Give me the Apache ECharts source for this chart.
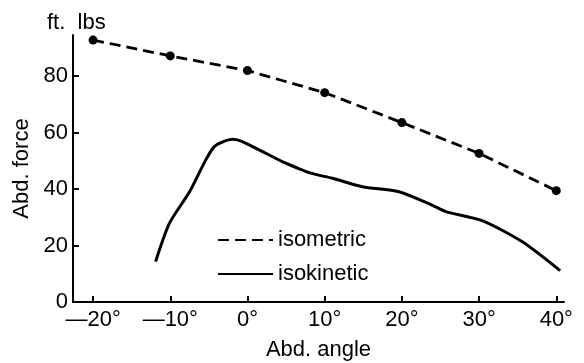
<!DOCTYPE html>
<html>
<head>
<meta charset="utf-8">
<script src="https://cdn.jsdelivr.net/npm/echarts@6/dist/echarts.min.js"></script>
<style>
html,body{margin:0;padding:0;background:#fff;}
#c{width:584px;height:363px;}
</style>
</head>
<body>
<div id="c"></div>
<script>
// ---- data ----
var isometricAngles = [-20, -10, 0, 10, 20, 30, 40];
var isometricForce  = [92.7, 87.1, 81.9, 74.1, 63.5, 52.6, 39.4];

var isokineticAngles = [-11.9, -10.1, -7.5, -5.4, -4.3, -3.2, -1.9, -0.6, 1.1, 3.2, 4.5, 8.2, 11.0, 14.9, 19.6, 23.9, 25.7, 30.4, 35.6, 40.5];
var isokineticForce  = [14.3, 27.9, 39.0, 50.3, 55.0, 56.7, 57.6, 56.7, 54.4, 51.5, 49.7, 45.6, 43.8, 40.8, 39.0, 34.3, 32.0, 28.8, 21.3, 11.1];

var xTickValues = [-20, -10, 0, 10, 20, 30, 40];
var xTickLabels = ['\u201420\u00b0', '\u201410\u00b0', '0\u00b0', '10\u00b0', '20\u00b0', '30\u00b0', '40\u00b0'];
var yTickValues = [0, 20, 40, 60, 80];
var yTickLabels = ['0', '20', '40', '60', '80'];

var seriesNames = ['isometric', 'isokinetic'];
var xAxisTitle = 'Abd. angle';
var yAxisTitle = 'Abd. force';
var unitLabel = 'ft.  lbs';

function pairs(xs, ys) { return xs.map(function (x, i) { return [x, ys[i]]; }); }

var FONT = 'Liberation Sans';
var FS = 22;
var chart = echarts.init(document.getElementById('c'), null, {renderer: 'canvas'});
chart.setOption({
  animation: false,
  backgroundColor: '#fff',
  textStyle: {fontFamily: FONT, color: '#000'},
  title: {
    text: unitLabel, left: 42, top: 7,
    textStyle: {fontFamily: FONT, fontSize: FS, fontWeight: 'normal', color: '#000'}
  },
  grid: {left: 73, top: 35, width: 491, height: 267, containLabel: false, outerBoundsMode: 'none'},
  legend: {
    orient: 'vertical', left: 212, top: 224,
    itemWidth: 55, itemHeight: 14, itemGap: 12,
    textStyle: {fontFamily: FONT, fontSize: FS, color: '#000'},
    data: [
      {name: seriesNames[0], itemStyle: {opacity: 0}},
      {name: seriesNames[1], itemStyle: {opacity: 0}}
    ]
  },
  xAxis: {
    type: 'value', min: -22.6, max: 41,
    name: xAxisTitle, nameLocation: 'middle', nameGap: 37,
    nameTextStyle: {fontFamily: FONT, fontSize: FS, color: '#000'},
    axisLine: {onZero: false, lineStyle: {color: '#000', width: 2}},
    axisTick: {inside: true, length: 6, lineStyle: {color: '#000', width: 2}, customValues: xTickValues},
    axisLabel: {
      customValues: xTickValues, margin: 7, fontFamily: FONT, fontSize: FS, color: '#000',
      formatter: function (v) { var i = xTickValues.indexOf(v); return i >= 0 ? xTickLabels[i] : ''; }
    },
    splitLine: {show: false}
  },
  yAxis: {
    type: 'value', min: 0, max: 94.5,
    name: yAxisTitle, nameLocation: 'middle', nameGap: 39, nameRotate: 90,
    nameTextStyle: {fontFamily: FONT, fontSize: FS, color: '#000'},
    axisLine: {show: true, onZero: false, lineStyle: {color: '#000', width: 2}},
    axisTick: {show: true, inside: true, length: 6, lineStyle: {color: '#000', width: 2}, customValues: yTickValues},
    axisLabel: {
      customValues: yTickValues, margin: 5, fontFamily: FONT, fontSize: FS, color: '#000',
      formatter: function (v) { var i = yTickValues.indexOf(v); return i >= 0 ? yTickLabels[i] : ''; }
    },
    splitLine: {show: false}
  },
  series: [
    {
      name: seriesNames[0], type: 'line',
      data: pairs(isometricAngles, isometricForce),
      symbol: 'circle', symbolSize: 9, showSymbol: true,
      itemStyle: {color: '#000'},
      lineStyle: {color: '#000', width: 2.8, type: [11, 6]},
      z: 3
    },
    {
      name: seriesNames[1], type: 'line',
      data: pairs(isokineticAngles, isokineticForce),
      symbol: 'none', smooth: 0.25,
      itemStyle: {color: '#000'},
      lineStyle: {color: '#000', width: 3}
    }
  ]
});
</script>
</body>
</html>
